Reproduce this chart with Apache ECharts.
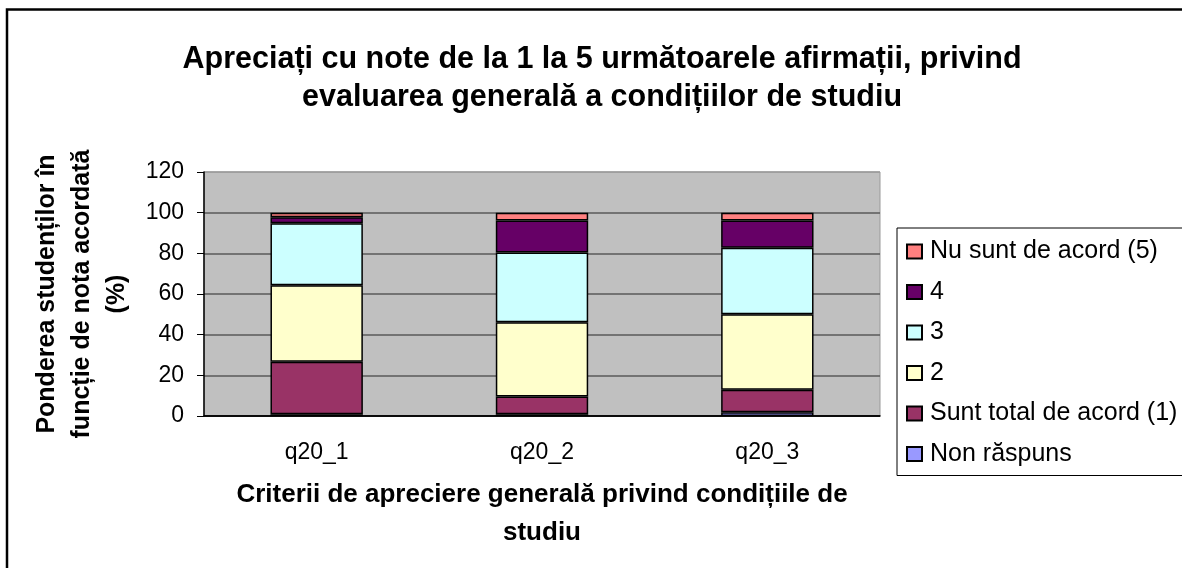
<!DOCTYPE html>
<html>
<head>
<meta charset="UTF-8">
<title>q20</title>
<script src="https://cdn.jsdelivr.net/npm/echarts/dist/echarts.min.js"></script>
<style>
  html, body { margin: 0; padding: 0; background: #fff; }
  #main { width: 1182px; height: 568px; }
</style>
</head>
<body>
<div id="main"></div>
<script type="text/javascript">
// categorii si valori (%), de jos in sus
var categories = ['q20_1', 'q20_2', 'q20_3'];
var nonRaspuns = [0.8, 0.8, 1.8];
var nota1 = [25.9, 8.8, 11.1];
var nota2 = [37.6, 36.5, 37.1];
var nota3 = [30.5, 34.3, 32.7];
var nota4 = [3.0, 15.7, 13.4];
var nota5 = [2.2, 3.9, 3.9];
var yTicks = [0, 20, 40, 60, 80, 100, 120];

var seriesNames = ['Non răspuns', 'Sunt total de acord (1)', '2', '3', '4', 'Nu sunt de acord (5)'];
var seriesData = [nonRaspuns, nota1, nota2, nota3, nota4, nota5];
var seriesColors = ['#9999FF', '#993366', '#FFFFCC', '#CCFFFF', '#660066', '#FF8080'];

var font = "'Liberation Sans', Arial, sans-serif";

var series = [];
for (var i = 0; i < seriesNames.length; i++) {
    series.push({
        name: seriesNames[i],
        type: 'bar',
        stack: 'total',
        barWidth: '41%',
        data: seriesData[i],
        itemStyle: { color: seriesColors[i], borderColor: '#000', borderWidth: 1.5 }
    });
}

var myChart = echarts.init(document.getElementById('main'));

var option = {
    backgroundColor: '#fff',
    animation: false,
    title: {
        text: 'Apreciați cu note de la 1 la 5 următoarele afirmații, privind\nevaluarea generală a condițiilor de studiu',
        left: 602,
        top: 41,
        padding: 0,
        textAlign: 'center',
        textStyle: { fontFamily: font, fontSize: 30.5, fontWeight: 'bold', color: '#000', lineHeight: 38 }
    },
    legend: {
        orient: 'vertical',
        left: 897,
        top: 228,
        padding: [11, 60, 9, 9],
        itemGap: 15.5,
        itemWidth: 15,
        itemHeight: 14,
        icon: 'rect',
        borderColor: '#000',
        borderWidth: 1,
        data: seriesNames.slice().reverse(),
        textStyle: { fontFamily: font, fontSize: 25, color: '#000', padding: [0, 0, 0, 3] }
    },
    grid: {
        left: 204,
        right: 302,
        top: 172,
        bottom: 152,
        show: true,
        backgroundColor: '#C0C0C0',
        borderColor: '#9a9a9a',
        borderWidth: 1
    },
    xAxis: {
        type: 'category',
        data: categories,
        name: 'Criterii de apreciere generală privind condițiile de\nstudiu',
        nameLocation: 'middle',
        nameGap: 60,
        nameTextStyle: { fontFamily: font, fontSize: 26, fontWeight: 'bold', color: '#000', lineHeight: 38 },
        axisLine: { lineStyle: { color: '#000', width: 1.5 } },
        axisTick: { length: 7, lineStyle: { color: '#000' } },
        axisLabel: { fontFamily: font, fontSize: 23, color: '#000', margin: 25 }
    },
    yAxis: {
        type: 'value',
        min: yTicks[0],
        max: yTicks[yTicks.length - 1],
        interval: 20,
        name: 'Ponderea studenților în\nfuncție de nota acordată\n(%)',
        nameLocation: 'middle',
        nameRotate: 90,
        nameGap: 67,
        nameTextStyle: { fontFamily: font, fontSize: 25, fontWeight: 'bold', color: '#000', lineHeight: 35, align: 'center' },
        axisLine: { show: true, lineStyle: { color: '#000', width: 1.5 } },
        axisTick: { show: true, length: 7, lineStyle: { color: '#000' } },
        axisLabel: { fontFamily: font, fontSize: 23, color: '#000', margin: 20 },
        splitLine: {
            show: true,
            lineStyle: { color: ['#000', '#5a5a5a', '#5a5a5a', '#5a5a5a', '#5a5a5a', '#5a5a5a', '#9a9a9a'], width: 1.5 }
        }
    },
    // chenarul exterior al graficului
    graphic: [{
        type: 'rect',
        shape: { x: 7, y: 9.5, width: 1200, height: 600 },
        style: { fill: 'none', stroke: '#000', lineWidth: 2.5 },
        silent: true
    }],
    series: series
};

myChart.setOption(option);
</script>
</body>
</html>
